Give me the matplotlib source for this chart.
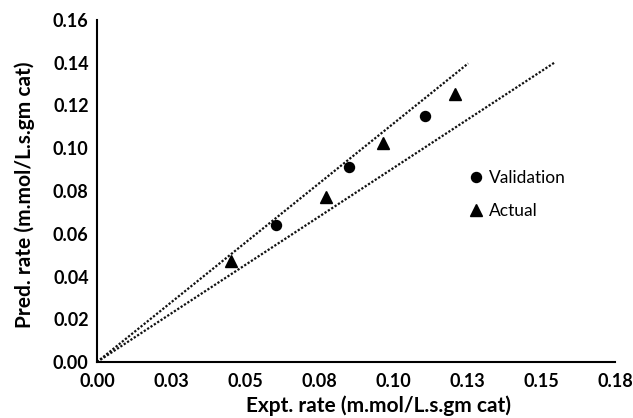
import matplotlib
matplotlib.use("Agg")
from matplotlib import pyplot as plt

plt.rcParams['font.family'] = ['Lato', 'DejaVu Sans']

# validation points (circles)
val_x = [0.0605, 0.0850, 0.1108]
val_y = [0.0641, 0.0914, 0.1151]

# actual points (triangles)
act_x = [0.0453, 0.0774, 0.0965, 0.1209]
act_y = [0.0473, 0.0772, 0.1025, 0.1255]

# dotted bounding lines from the origin
upper_x = [0.0, 0.1254]
upper_y = [0.0, 0.1397]
lower_x = [0.0, 0.1547]
lower_y = [0.0, 0.1402]

x_ticks = [0.0, 0.025, 0.05, 0.075, 0.1, 0.125, 0.15, 0.175]
x_tick_labels = ["0.00", "0.03", "0.05", "0.08", "0.10", "0.13", "0.15", "0.18"]
y_ticks = [0.0, 0.02, 0.04, 0.06, 0.08, 0.10, 0.12, 0.14, 0.16]
y_tick_labels = ["0.00", "0.02", "0.04", "0.06", "0.08", "0.10", "0.12", "0.14", "0.16"]


def main():
    fig = plt.figure(figsize=(6.33, 4.18), dpi=100)
    ax = fig.add_axes([97 / 633, 56 / 418, 518 / 633, 342 / 418])

    dots = (0, (1, 0.8))
    ax.plot(upper_x, upper_y, color="#111111", lw=1.6, linestyle=dots)
    ax.plot(lower_x, lower_y, color="#111111", lw=1.6, linestyle=dots)

    ax.plot(val_x, val_y, "o", color="black", markersize=7.2, linestyle="none", label="Validation")
    ax.plot(act_x, act_y, "^", color="black", markersize=8, linestyle="none", label="Actual")

    ax.set_xlim(0, 0.175)
    ax.set_ylim(0, 0.16)
    ax.set_xticks(x_ticks)
    ax.set_xticklabels(x_tick_labels)
    ax.set_yticks(y_ticks)
    ax.set_yticklabels(y_tick_labels)
    ax.tick_params(length=0, labelsize=13)
    ax.tick_params(axis="x", pad=8)
    ax.tick_params(axis="y", pad=6)
    for lbl in ax.get_xticklabels() + ax.get_yticklabels():
        lbl.set_fontweight("bold")

    for side in ["top", "right"]:
        ax.spines[side].set_visible(False)
    for side in ["left", "bottom"]:
        ax.spines[side].set_linewidth(1.5)
        ax.spines[side].set_color("black")

    ax.set_xlabel("Expt. rate (m.mol/L.s.gm cat)", fontsize=15, fontweight="bold", va="center")
    ax.xaxis.set_label_coords(0.544, -0.128)
    ax.set_ylabel("Pred. rate (m.mol/L.s.gm cat)", fontsize=15, fontweight="bold", va="center")
    ax.yaxis.set_label_coords(-0.139, 0.49)

    ax.legend(loc="upper left", bbox_to_anchor=(0.719, 0.562), frameon=False,
              handlelength=0.8, handletextpad=0.3, borderpad=0, borderaxespad=0,
              labelspacing=1.0, fontsize=12.5)

    fig.savefig("out.png", dpi=100)


if __name__ == "__main__":
    main()
